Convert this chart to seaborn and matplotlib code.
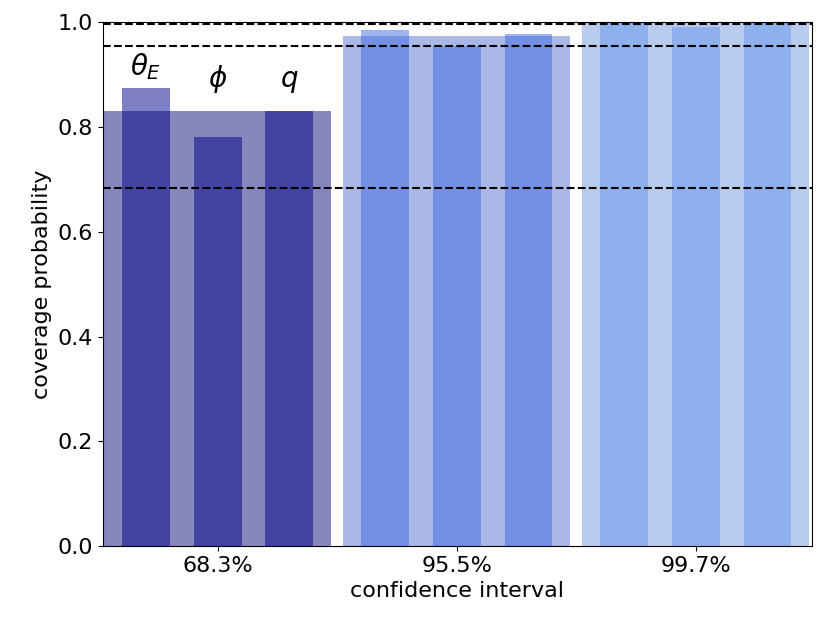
import numpy as np
import pandas as pd
import matplotlib
matplotlib.use("Agg")
import matplotlib.pyplot as plt
import seaborn as sns

intervals = ["68.3%", "95.5%", "99.7%"]
targets = [0.683, 0.955, 0.997]
mean_cov = [0.83, 0.973, 1.0]
params = [r"$\theta_E$", r"$\phi$", r"$q$"]
theta_cov = [0.875, 0.985, 1.0]
phi_cov = [0.78, 0.955, 0.99]
q_cov = [0.83, 0.978, 1.0]
colors = ["darkblue", "royalblue", "cornflowerblue"]

plt.rcParams["font.size"] = 16
fig, ax = plt.subplots(figsize=(8.3, 6.3), dpi=100)

df = pd.DataFrame({"interval": intervals, "coverage": mean_cov})
sns.barplot(data=df, x="interval", y="coverage", hue="interval", palette=colors,
            width=0.95, alpha=0.5, legend=False, ax=ax)

per_param = [theta_cov, phi_cov, q_cov]
offsets = [-0.3, 0.0, 0.3]
for j, vals in enumerate(per_param):
    ax.bar(np.arange(3) + offsets[j], vals, width=0.2, color=colors, alpha=0.5)

for j, name in enumerate(params):
    ypos = per_param[j][0] + 0.01 if j == 0 else 0.86
    ax.text(offsets[j], ypos, name, ha="center", va="bottom", fontsize=20)

for t in targets:
    ax.axhline(t, color="black", linestyle="--", linewidth=1.5)

ax.set_ylim(0, 1)
ax.set_xlim(-0.48, 2.485)
ax.set_xlabel("confidence interval")
ax.set_ylabel("coverage probability")
fig.subplots_adjust(left=0.124, right=0.978, top=0.965, bottom=0.133)
fig.savefig("out.png")
